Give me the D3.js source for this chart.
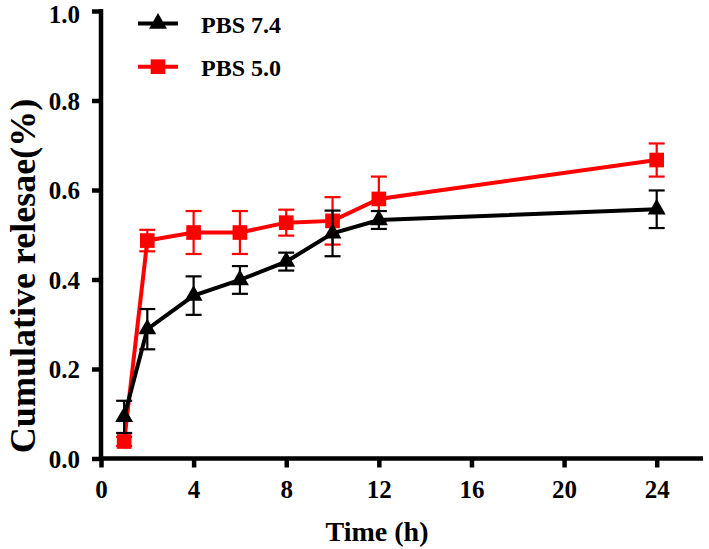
<!DOCTYPE html>
<html>
<head>
<meta charset="utf-8">
<script src="https://cdn.jsdelivr.net/npm/d3@7"></script>
<style>
  html, body { margin: 0; padding: 0; background: #fff; }
  svg { display: block; }
  text { font-family: "Liberation Serif", "Times New Roman", serif; font-weight: bold; fill: #000; }
</style>
</head>
<body>
<script>
// ---- data ----
const time = [1, 2, 4, 6, 8, 10, 12, 24];
const pbs74 = [0.093, 0.289, 0.364, 0.399, 0.440, 0.503, 0.533, 0.557];
const pbs74Err = [0.036, 0.045, 0.043, 0.031, 0.020, 0.051, 0.020, 0.042];
const pbs50 = [0.038, 0.487, 0.505, 0.505, 0.527, 0.531, 0.580, 0.667];
const pbs50Err = [0.010, 0.024, 0.048, 0.048, 0.029, 0.053, 0.050, 0.037];
const xTicks = [0, 4, 8, 12, 16, 20, 24];
const yTicks = [0.0, 0.2, 0.4, 0.6, 0.8, 1.0];
const seriesNames = ["PBS 7.4", "PBS 5.0"];

const W = 709, H = 549;
const svg = d3.select("body").append("svg").attr("width", W).attr("height", H);

const x = d3.scaleLinear().domain([0, 26]).range([101, 703]);
const y = d3.scaleLinear().domain([0, 1]).range([458.5, 11]);

// axes
const xAxis = d3.axisBottom(x).tickValues(xTicks).tickFormat(d3.format("d")).tickSize(9).tickPadding(13);
const yAxis = d3.axisLeft(y).tickValues(yTicks).tickFormat(d3.format(".1f")).tickSize(9).tickPadding(12);

const gx = svg.append("g").attr("transform", `translate(0,${y(0)})`).call(xAxis);
const gy = svg.append("g").attr("transform", `translate(${x(0)},0)`).call(yAxis);
[gx, gy].forEach(g => {
  g.attr("font-size", null).attr("font-family", null);
  g.select(".domain").attr("stroke", "#000").attr("stroke-width", 4.5);
  g.selectAll(".tick line").attr("stroke", "#000").attr("stroke-width", 4.5);
  g.selectAll(".tick text").style("font-size", "25px").style("font-family", "Liberation Serif").style("font-weight", "bold").attr("fill", "#000");
});
gy.selectAll(".tick text").attr("dy", "0.35em");
// keep the top label's text box inside the picture
gy.selectAll(".tick text").filter(d => d === 1).attr("y", 3);
// replace domain paths with plain lines (no outer ticks)
gx.select(".domain").attr("d", `M${x(0)},0H${x(26)}`);
gy.select(".domain").attr("d", `M0,${y(1) - 2}V${y(0)}`);

// axis titles
svg.append("text").attr("x", 377).attr("y", 541).attr("text-anchor", "middle")
  .style("font-size", "28px").text("Time (h)");
svg.append("text").attr("transform", `translate(35,276) rotate(-90)`)
  .attr("text-anchor", "middle").style("font-size", "36px").text("Cumulative relesae(%)");

// series
const series = [
  { name: seriesNames[1], vals: pbs50, errs: pbs50Err, color: "#ff0000", shape: d3.symbolSquare, size: 215 },
  { name: seriesNames[0], vals: pbs74, errs: pbs74Err, color: "#000000", shape: d3.symbolTriangle, size: 140 }
];

const line = d3.line().x(d => x(d.t)).y(d => y(d.v));

series.forEach(s => {
  const pts = time.map((t, i) => ({ t, v: s.vals[i], e: s.errs[i] }));
  const g = svg.append("g");
  const eb = g.selectAll(".eb").data(pts).enter().append("g");
  eb.append("line").attr("x1", d => x(d.t)).attr("x2", d => x(d.t))
    .attr("y1", d => y(d.v + d.e)).attr("y2", d => y(d.v - d.e))
    .attr("stroke", s.color).attr("stroke-width", 2.2);
  eb.append("line").attr("x1", d => x(d.t) - 8).attr("x2", d => x(d.t) + 8)
    .attr("y1", d => y(d.v + d.e)).attr("y2", d => y(d.v + d.e))
    .attr("stroke", s.color).attr("stroke-width", 2.2);
  eb.append("line").attr("x1", d => x(d.t) - 8).attr("x2", d => x(d.t) + 8)
    .attr("y1", d => y(d.v - d.e)).attr("y2", d => y(d.v - d.e))
    .attr("stroke", s.color).attr("stroke-width", 2.2);
  g.append("path").datum(pts).attr("d", line).attr("fill", "none")
    .attr("stroke", s.color).attr("stroke-width", 4);
  g.selectAll(".m").data(pts).enter().append("path")
    .attr("d", d3.symbol(s.shape, s.size))
    .attr("transform", d => `translate(${x(d.t)},${y(d.v)})`)
    .attr("fill", s.color);
});

// legend
const legend = [
  { name: seriesNames[0], color: "#000000", shape: d3.symbolTriangle, size: 140, ly: 23.5 },
  { name: seriesNames[1], color: "#ff0000", shape: d3.symbolSquare, size: 215, ly: 66.7 }
];
legend.forEach(l => {
  const g = svg.append("g");
  g.append("line").attr("x1", 138).attr("x2", 178).attr("y1", l.ly).attr("y2", l.ly)
    .attr("stroke", l.color).attr("stroke-width", 4);
  g.append("path").attr("d", d3.symbol(l.shape, l.size)).attr("transform", `translate(158,${l.ly})`).attr("fill", l.color);
  g.append("text").attr("x", 201).attr("y", l.ly + 9).style("font-size", "24px").text(l.name);
});
</script>
</body>
</html>
